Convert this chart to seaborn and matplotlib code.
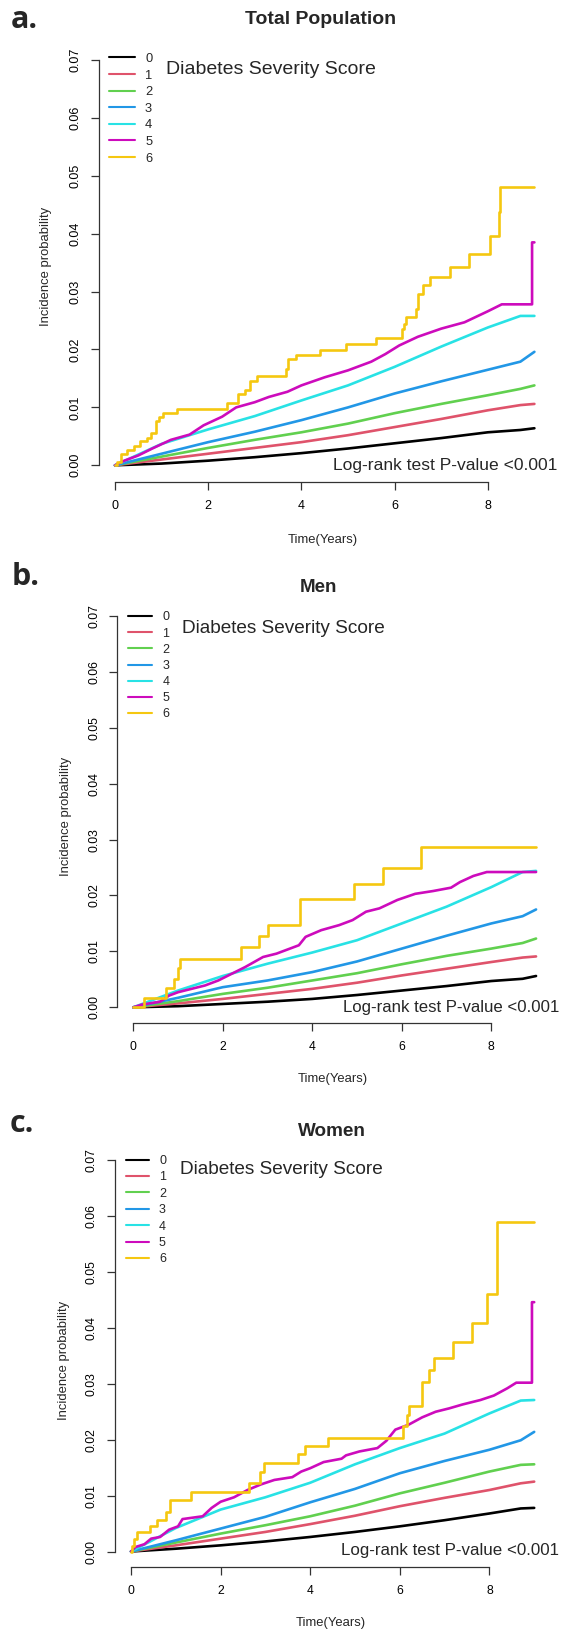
import matplotlib
matplotlib.use("Agg")
import matplotlib.pyplot as plt
from matplotlib.lines import Line2D
import seaborn as sns

# R 4.x default palette, scores 0..6
scores = ["0", "1", "2", "3", "4", "5", "6"]
colors = ["#000000", "#DF536B", "#61D04F", "#2297E6", "#28E2E5", "#CD0BBC", "#F5C710"]

# time grid (years) for the smooth curves (scores 0-4)
yrs = [0, 1, 2, 3, 4, 5, 6, 7, 8, 8.7, 9.0]

# ---- a. Total population ----
tot0 = [0, .0003, .0008, .0014, .0021, .0029, .0038, .0047, .0057, .0061, .0064]
tot1 = [0, .0010, .0020, .0030, .0040, .0052, .0066, .0080, .0095, .0104, .0106]
tot2 = [0, .0015, .0030, .0044, .0057, .0072, .0090, .0106, .0121, .0132, .0138]
tot3 = [0, .0020, .0040, .0058, .0078, .0100, .0124, .0145, .0165, .0179, .0196]
tot4 = [0, .0037, .0062, .0085, .0112, .0138, .0170, .0205, .0238, .0258, .0258]
tot5_t = [0, 0.2, 0.5, 0.8, 1.2, 1.6, 1.9, 2.3, 2.6, 3.0, 3.3, 3.7, 4.0, 4.5, 5.0,
          5.5, 5.8, 6.1, 6.5, 7.0, 7.5, 8.0, 8.3, 8.95, 8.95, 9.0]
tot5_p = [0, .0008, .0017, .0029, .0044, .0053, .0069, .0084, .0100, .0109, .0118,
          .0127, .0138, .0152, .0164, .0179, .0192, .0207, .0222, .0236, .0247,
          .0266, .0278, .0278, .0385, .0385]
tot6_t = [0, 0.04, 0.13, 0.25, 0.41, 0.54, 0.69, 0.77, 0.88, 0.95, 1.02, 1.34, 2.40,
          2.65, 2.79, 2.90, 3.04, 3.68, 3.72, 3.88, 4.40, 4.95, 5.60, 6.15, 6.20,
          6.25, 6.45, 6.50, 6.60, 6.75, 7.18, 7.60, 8.05, 8.25, 8.27, 9.0]
tot6_p = [0, .0006, .0019, .0027, .0033, .0042, .0048, .0056, .0076, .0083, .0091,
          .0098, .0107, .0123, .0130, .0146, .0155, .0167, .0183, .0191, .0199,
          .0209, .0219, .0235, .0244, .0256, .0270, .0296, .0312, .0325, .0342,
          .0365, .0396, .0438, .0480, .0480]

# ---- b. Men ----
men0 = [0, .0002, .0006, .0010, .0015, .0022, .0030, .0038, .0047, .0051, .0056]
men1 = [0, .0007, .0015, .0024, .0033, .0044, .0057, .0069, .0081, .0089, .0091]
men2 = [0, .0011, .0024, .0035, .0048, .0061, .0077, .0092, .0105, .0115, .0123]
men3 = [0, .0017, .0036, .0048, .0063, .0082, .0105, .0128, .0150, .0163, .0175]
men4 = [0, .0030, .0056, .0078, .0098, .0120, .0150, .0180, .0215, .0242, .0244]
men5_t = [0, 0.2, 0.6, 0.8, 1.0, 1.3, 1.6, 1.9, 2.2, 2.5, 2.7, 2.9, 3.2, 3.4, 3.7,
          3.85, 4.2, 4.6, 4.9, 5.2, 5.5, 5.9, 6.3, 6.7, 7.1, 7.3, 7.6, 7.9, 9.0]
men5_p = [0, .0005, .0010, .0021, .0027, .0033, .0039, .0048, .0060, .0072, .0081,
          .0090, .0096, .0102, .0111, .0126, .0138, .0147, .0156, .0171, .0177,
          .0192, .0203, .0208, .0214, .0224, .0235, .0242, .0242]
men6_t = [0, 0.24, 0.72, 0.90, 0.99, 1.04, 2.40, 2.80, 3.02, 3.73, 4.93, 5.59, 6.44, 9.0]
men6_p = [0, .0017, .0034, .0051, .0070, .0087, .0107, .0127, .0148, .0194, .0220,
          .0250, .0287, .0287]

# ---- c. Women ----
wom0 = [0, .0005, .0011, .0018, .0026, .0035, .0045, .0056, .0068, .0077, .0078]
wom1 = [0, .0011, .0023, .0035, .0049, .0064, .0081, .0096, .0110, .0122, .0125]
wom2 = [0, .0016, .0032, .0047, .0063, .0082, .0104, .0123, .0143, .0155, .0156]
wom3 = [0, .0020, .0041, .0062, .0088, .0112, .0140, .0162, .0182, .0199, .0214]
wom4 = [0, .0042, .0075, .0097, .0123, .0156, .0185, .0211, .0247, .0270, .0271]
wom5_t = [0, 0.1, 0.3, 0.45, 0.65, 0.85, 1.05, 1.15, 1.6, 1.8, 2.0, 2.3, 2.6, 2.9,
          3.2, 3.6, 3.8, 4.0, 4.3, 4.7, 4.8, 5.1, 5.5, 5.7, 5.9, 6.2, 6.5, 6.8,
          7.1, 7.4, 7.8, 8.1, 8.4, 8.6, 8.95, 8.95, 9.0]
wom5_p = [0, .0008, .0013, .0023, .0026, .0039, .0045, .0058, .0063, .0078, .0089,
          .0097, .0110, .0120, .0128, .0133, .0143, .0149, .0160, .0166, .0172,
          .0179, .0185, .0198, .0218, .0227, .0240, .0250, .0256, .0263, .0271,
          .0279, .0292, .0302, .0302, .0446, .0446]
wom6_t = [0, 0.02, 0.07, 0.13, 0.42, 0.57, 0.78, 0.87, 1.34, 2.64, 2.88, 2.96, 3.72,
          3.88, 4.40, 6.08, 6.15, 6.20, 6.50, 6.66, 6.76, 7.18, 7.62, 7.94, 8.16,
          8.18, 9.0]
wom6_p = [0, .0010, .0023, .0035, .0045, .0057, .0070, .0093, .0106, .0122, .0142,
          .0158, .0175, .0188, .0203, .0224, .0244, .0261, .0303, .0325, .0347,
          .0375, .0409, .0460, .0524, .0590, .0590]

x_ticks = [0, 2, 4, 6, 8]
y_ticks = [0.00, 0.01, 0.02, 0.03, 0.04, 0.05, 0.06, 0.07]

sns.set_style("white")
plt.rcParams["font.family"] = ["Liberation Sans", "DejaVu Sans"]

W, H = 562, 1629
fig = plt.figure(figsize=(W / 100, H / 100), dpi=100)


def fx(px):
    return px / W


def fy(py):
    return 1 - py / H


def series_for(smooth, s5, s6):
    out = []
    for vals in smooth:
        out.append((yrs, vals, "default"))
    out.append((s5[0], s5[1], "default"))
    out.append((s6[0], s6[1], "steps-post"))
    return out


panels = [
    dict(letter="a.", title="Total Population",
         data=series_for([tot0, tot1, tot2, tot3, tot4], (tot5_t, tot5_p), (tot6_t, tot6_p)),
         spine_x=99, axis_y=482, x0=115, xs=46.6, y0=465.3, ys=5790, top=40,
         letter_xy=(11, 28.5), title_xy=(321, 20), title_fs=14,
         leg_xy=(109, 59), leg_pitch=16.7, leg_fs=9.3, leg_len=25.7,
         dss_xy=(166, 69.5), dss_fs=14, lr_xy=(333.3, 465.3), lr_fs=12.6,
         ylab_xy=(46, 266), xlab_xy=(323, 540), tick_fs=9),
    dict(letter="b.", title="Men",
         data=series_for([men0, men1, men2, men3, men4], (men5_t, men5_p), (men6_t, men6_p)),
         spine_x=117.3, axis_y=1023.3, x0=133.3, xs=44.75, y0=1007.3, ys=5590, top=600,
         letter_xy=(12, 585), title_xy=(318, 587), title_fs=13.5,
         leg_xy=(127.7, 617.3), leg_pitch=15.9, leg_fs=9.0, leg_len=24.6,
         dss_xy=(181.7, 628.3), dss_fs=13.7, lr_xy=(342.7, 1007.3), lr_fs=12.1,
         ylab_xy=(66.3, 816), xlab_xy=(333, 1079.3), tick_fs=8.7),
    dict(letter="c.", title="Women",
         data=series_for([wom0, wom1, wom2, wom3, wom4], (wom5_t, wom5_p), (wom6_t, wom6_p)),
         spine_x=114.5, axis_y=1567.3, x0=131, xs=44.8, y0=1551.5, ys=5590, top=1145,
         letter_xy=(10, 1132.3), title_xy=(331.5, 1131), title_fs=13.6,
         leg_xy=(125.7, 1161), leg_pitch=16.1, leg_fs=9.0, leg_len=23.3,
         dss_xy=(180.3, 1170), dss_fs=13.7, lr_xy=(340.7, 1551), lr_fs=12.2,
         ylab_xy=(64.5, 1360), xlab_xy=(331, 1623.3), tick_fs=8.7),
]

right_px = 548
axis_col = "#333333"

for p in panels:
    ax = fig.add_axes([fx(p["spine_x"]), fy(p["axis_y"]),
                       (right_px - p["spine_x"]) / W, (p["axis_y"] - p["top"]) / H])
    for (t, v, ds), col in zip(p["data"], colors):
        sns.lineplot(x=t, y=v, ax=ax, color=col, lw=1.9, estimator=None,
                     drawstyle=ds)
    ax.set_xlim((p["spine_x"] - p["x0"]) / p["xs"], (right_px - p["x0"]) / p["xs"])
    ax.set_ylim(-(p["axis_y"] - p["y0"]) / p["ys"], (p["y0"] - p["top"]) / p["ys"])
    ax.set_xticks(x_ticks)
    ax.set_yticks(y_ticks)
    ax.set_xticklabels([str(x) for x in x_ticks])
    ax.set_yticklabels(["%.2f" % y for y in y_ticks])
    for s in ["top", "right"]:
        ax.spines[s].set_visible(False)
    ax.spines["left"].set_bounds(0, 0.07)
    ax.spines["bottom"].set_bounds(0, 8)
    for s in ["left", "bottom"]:
        ax.spines[s].set_color(axis_col)
        ax.spines[s].set_linewidth(0.9)
    ax.tick_params(direction="out", length=5.8, width=0.9, color=axis_col,
                   labelsize=p["tick_fs"], labelcolor="black", left=True, bottom=True)
    ax.tick_params(axis="x", pad=7.0)
    ax.tick_params(axis="y", pad=6.5, labelrotation=90)
    for lab in ax.get_yticklabels():
        lab.set_va("center")
    ax.set_facecolor("none")

    # axis labels
    ax.set_xlabel("Time(Years)", fontsize=9.4, va="center")
    ax.xaxis.set_label_coords(fx(p["xlab_xy"][0]), fy(p["xlab_xy"][1]),
                              transform=fig.transFigure)
    ax.set_ylabel("Incidence probability", fontsize=9.4, va="center")
    ax.yaxis.set_label_coords(fx(p["ylab_xy"][0]), fy(p["ylab_xy"][1]),
                              transform=fig.transFigure)

    # legend (rows spaced like the R legend)
    fs = p["leg_fs"]
    fs_px = fs * 100 / 72
    row_h = 0.94 * fs_px
    handles = [Line2D([], [], color=c, lw=1.5) for c in colors]
    leg_top = p["leg_xy"][1] - row_h / 2
    ax.legend(handles, scores, loc="upper left",
              bbox_to_anchor=(fx(p["leg_xy"][0]), fy(leg_top)),
              bbox_transform=fig.transFigure, frameon=False, fontsize=fs,
              borderpad=0, borderaxespad=0, handlelength=p["leg_len"] / fs_px,
              handletextpad=0.8, labelspacing=(p["leg_pitch"] - row_h) / fs_px)

    fig.text(fx(p["dss_xy"][0]), fy(p["dss_xy"][1]), "Diabetes Severity Score",
             fontsize=p["dss_fs"], ha="left", va="center")
    fig.text(fx(p["lr_xy"][0]), fy(p["lr_xy"][1]), "Log-rank test P-value <0.001",
             fontsize=p["lr_fs"], ha="left", va="center")
    fig.text(fx(p["title_xy"][0]), fy(p["title_xy"][1]), p["title"],
             fontsize=p["title_fs"], fontweight="bold", ha="center", va="center")
    fig.text(fx(p["letter_xy"][0]), fy(p["letter_xy"][1]), p["letter"],
             fontsize=22, fontweight="bold", ha="left", va="baseline",
             family=["Open Sans", "DejaVu Sans"])

fig.savefig("out.png", dpi=100, facecolor="white")
